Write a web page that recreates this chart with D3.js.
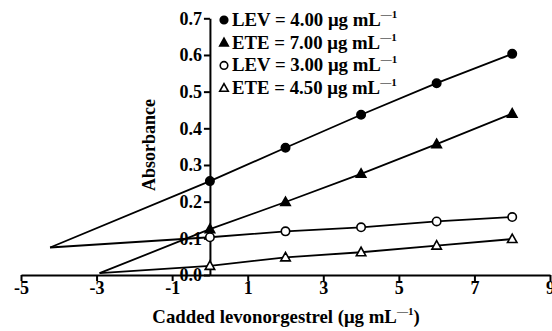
<!DOCTYPE html>
<html>
<head>
<meta charset="utf-8">
<script src="https://cdn.jsdelivr.net/npm/d3@7"></script>
<style>
  body { margin: 0; background: #fff; }
  svg text { font-family: "Liberation Serif", "Times New Roman", serif; font-weight: bold; fill: #000; }
</style>
</head>
<body>
<svg width="552" height="331"></svg>
<script>
// added concentration (x) and absorbance readings
const xAdded = [0, 2, 4, 6, 8]
const lev400 = [0.256, 0.347, 0.437, 0.523, 0.603]
const ete700 = [0.125, 0.199, 0.276, 0.357, 0.440]
const lev300 = [0.103, 0.119, 0.130, 0.146, 0.158]
const ete450 = [0.025, 0.048, 0.062, 0.080, 0.098]
// where the extrapolated lines end on the left
const levStart = [-4.23, 0.075]
const eteStart = [-2.92, 0.005]
const xTicks = [-5, -3, -1, 1, 3, 5, 7, 9]
const yTicks = [0.0, 0.1, 0.2, 0.3, 0.4, 0.5, 0.6, 0.7]

const series = [
  { name: "LEV = 4.00 μg mL", y: lev400, start: levStart, shape: "circle", fill: "#000" },
  { name: "ETE = 7.00 μg mL", y: ete700, start: eteStart, shape: "triangle", fill: "#000" },
  { name: "LEV = 3.00 μg mL", y: lev300, start: levStart, shape: "circle", fill: "#fff" },
  { name: "ETE = 4.50 μg mL", y: ete450, start: eteStart, shape: "triangle", fill: "#fff" }
]

const svg = d3.select("svg")
const x = d3.scaleLinear().domain([-5, 9]).range([21, 550])
const y = d3.scaleLinear().domain([0, 0.7]).range([275, 18.3])

// x axis (plain hyphen for negatives, like the original)
const xAxis = svg.append("g").attr("transform", `translate(0,${y(0)})`)
  .call(d3.axisBottom(x).tickValues(xTicks).tickFormat(d => String(d)).tickSize(6).tickSizeOuter(0))
xAxis.select(".domain").attr("stroke-width", 2)
xAxis.selectAll(".tick line").attr("stroke-width", 2)
xAxis.selectAll("text").attr("font-size", 18).attr("y", 19).attr("dy", 0).attr("font-family", "Liberation Serif")

// y axis at x = 0
const yAxis = svg.append("g").attr("transform", `translate(${x(0)},0)`)
  .call(d3.axisLeft(y).tickValues(yTicks).tickFormat(d3.format(".1f")).tickSize(6).tickSizeOuter(0))
yAxis.select(".domain").attr("stroke-width", 2)
yAxis.selectAll(".tick line").attr("stroke-width", 2)
yAxis.selectAll("text").attr("font-size", 18).attr("x", -8).attr("font-family", "Liberation Serif")

// lines
const line = d3.line().x(d => x(d[0])).y(d => y(d[1]))
series.forEach(s => {
  const pts = [s.start].concat(xAdded.map((v, i) => [v, s.y[i]]))
  svg.append("path").attr("d", line(pts)).attr("fill", "none")
    .attr("stroke", "#000").attr("stroke-width", 1.8)
})

function marker(g, s, cx, cy, scale) {
  if (s.shape === "circle") {
    g.append("circle").attr("cx", cx).attr("cy", cy).attr("r", 4.2 * scale)
      .attr("fill", s.fill).attr("stroke", "#000").attr("stroke-width", 1.6)
  } else {
    const r = 5 * scale
    g.append("path")
      .attr("d", `M${cx},${cy - r}L${cx + r * 0.95},${cy + r * 0.7}L${cx - r * 0.95},${cy + r * 0.7}Z`)
      .attr("fill", s.fill).attr("stroke", "#000").attr("stroke-width", 1.6)
  }
}

const marks = svg.append("g")
series.forEach(s => {
  xAdded.forEach((v, i) => marker(marks, s, x(v), y(s.y[i]), 1))
})

// legend
const legend = svg.append("g")
series.forEach((s, i) => {
  const ly = 20 + i * 22.7
  marker(legend, s, 224, ly, 0.9)
  const t = legend.append("text").attr("x", 232).attr("y", ly + 6).attr("font-size", 18.8)
  t.append("tspan").text(s.name)
  t.append("tspan").attr("font-size", 11).attr("dy", -8).text("—1")
})

// axis titles
svg.append("text").attr("transform", "translate(155,145) rotate(-90)")
  .attr("text-anchor", "middle").attr("font-size", 18).text("Absorbance")

const xt = svg.append("text").attr("x", 286).attr("y", 323).attr("text-anchor", "middle").attr("font-size", 18.8)
xt.append("tspan").text("Cadded levonorgestrel (μg mL")
xt.append("tspan").attr("font-size", 11).attr("dy", -8).text("—1")
xt.append("tspan").attr("dy", 8).text(")")
</script>
</body>
</html>
